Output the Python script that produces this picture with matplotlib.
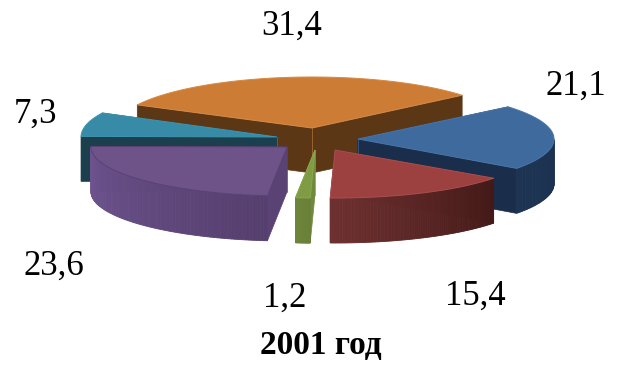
import numpy as np
import matplotlib
matplotlib.use("Agg")
import matplotlib.pyplot as plt
from matplotlib.colors import to_rgb

categories = ["a", "b", "c", "d", "e", "f"]
values = [21.1, 15.4, 1.2, 23.6, 7.3, 31.4]
title = "2001 год"

# styling and layout
apex_x = [358, 335, 315, 287, 277, 312]
apex_y = [139, 150, 150, 147, 137, 128]
rad_y = [50, 48, 48, 49, 53, 51]
RX = 196
DEPTH = 45
START = 40.0
top_col = ["#3f6a9e", "#9c4040", "#7f9c45", "#6e5389", "#378ba6", "#cd7c35"]
face_col = ["#1a2d4a", "#4a1c1a", "#6f8a3c", "#5b4274", "#1b3f4c", "#5c3716"]
rim_a = ["#1b2f4d", "#431a18", "#6a8038", "#553f6e", "#1b3f4c", "#5c3716"]
rim_b = ["#1c3352", "#6e3030", "#6d843a", "#6f5490", "#1b3f4c", "#5c3716"]
edge_col = ["#4a76ab", "#a85050", "#8aa850", "#5b4274", "#3f94ae", "#d58a45"]
label_xy = [(576, 86), (475, 296), (285, 298), (54, 266), (36, 114), (292, 26)]

plt.rcParams["font.family"] = ["Liberation Serif", "DejaVu Serif"]
fig = plt.figure(figsize=(6.2, 3.68), dpi=100)
ax = fig.add_axes([0, 0, 1, 1])
ax.set_xlim(0, 620)
ax.set_ylim(368, 0)
ax.axis("off")

fracs = np.array(values) / sum(values)
ends = START - 360 * np.cumsum(fracs)
starts = np.r_[START, ends[:-1]]
order = [5, 4, 0, 1, 2, 3]


def pt(i, t):
    r = np.radians(t)
    return apex_x[i] + RX * np.cos(r), apex_y[i] - rad_y[i] * np.sin(r)


for z, i in enumerate(order):
    a, b = starts[i], ends[i]
    ts = np.linspace(a, b, 80)
    xs, ys = pt(i, ts)
    ax0, ay0 = apex_x[i], apex_y[i]
    zb = 10 + z * 3
    # cut faces
    for ex, ey in [(xs[0], ys[0]), (xs[-1], ys[-1])]:
        ax.fill([ax0, ex, ex, ax0], [ay0, ey, ey + DEPTH, ay0 + DEPTH],
                color=face_col[i], lw=0.5, zorder=zb)
    # thin light seam where the two cut faces meet
    ax.plot([ax0, ax0], [ay0, ay0 + DEPTH], color=edge_col[i], lw=0.6, alpha=0.6, zorder=zb)
    # visible rim, shaded piece by piece
    ca, cb = np.array(to_rgb(rim_a[i])), np.array(to_rgb(rim_b[i]))
    for k in range(len(ts) - 1):
        if np.sin(np.radians((ts[k] + ts[k + 1]) / 2)) < 0:
            f = k / (len(ts) - 2)
            ax.fill([xs[k], xs[k + 1], xs[k + 1], xs[k]],
                    [ys[k], ys[k + 1], ys[k + 1] + DEPTH, ys[k] + DEPTH],
                    color=ca + (cb - ca) * f, lw=0.6, zorder=zb + 1)
    # top surface
    ax.fill(np.r_[ax0, xs], np.r_[ay0, ys], facecolor=top_col[i],
            edgecolor=edge_col[i], lw=0.7, zorder=zb + 2)
    ax.text(*label_xy[i], f"{values[i]:.1f}".replace(".", ","), fontsize=25,
            ha="center", va="center", color="black", zorder=50)

ax.text(321, 345, title, fontsize=24, fontweight="bold", ha="center", va="center",
        color="black", zorder=50)
fig.savefig("out.png", dpi=100)
